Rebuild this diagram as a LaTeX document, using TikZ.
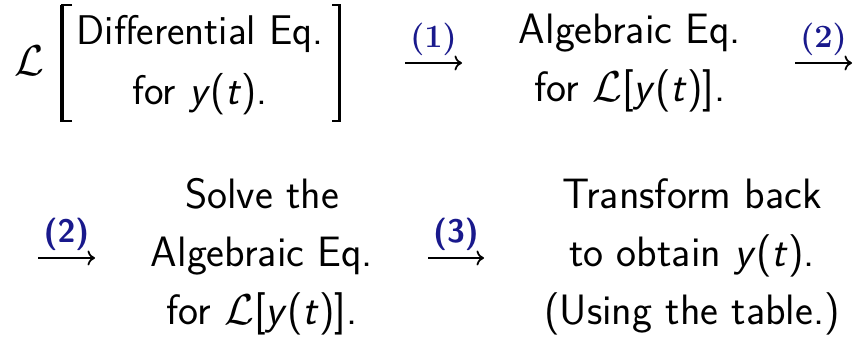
\documentclass[tikz,border=0pt]{standalone}
\usepackage{amsmath,amssymb}
\usepackage{xcolor}
\usepackage{tikz}
\usetikzlibrary{arrows.meta}

\definecolor{stepblue}{RGB}{25,25,140}
\newcommand{\yoft}{\textit{y}(\textit{t})}
\newcommand{\Lap}{$\mathcal{L}$}

\begin{document}
\begin{tikzpicture}[x=0.4pt, y=-0.4pt,
  eqtext/.style={font=\fontsize{17}{23.2}\selectfont\sffamily, align=center, inner sep=0pt},
  steparrow/.style={line width=0.7pt, -{To[length=3pt, width=6pt]}},
  steplabel/.style={font=\fontsize{13}{15}\selectfont, text=stepblue, inner sep=0pt, above=2.5pt},
  brackstem/.style={line width=1.5pt},
  brackhook/.style={line width=0.8pt}]
  \useasboundingbox (0,0) rectangle (858,337);

  % Top row
  \node[font=\fontsize{17}{20}\selectfont, inner sep=0pt] (lap) at (29.5,61) {$\mathcal{L}$};
  \node[eqtext, font=\fontsize{16.6}{24}\selectfont\sffamily] (diffeq) at (200,65) {Differential Eq.\\ for \yoft.};
  % brackets round it
  \draw[brackhook] (72,5.5) -- (61,5.5);
  \draw[brackstem] (62,5) -- (62,122);
  \draw[brackhook] (72,121.5) -- (61,121.5);
  \draw[brackhook] (332,5.5) -- (341,5.5);
  \draw[brackstem] (339.5,5) -- (339.5,122);
  \draw[brackhook] (332,121.5) -- (341,121.5);
  \node[eqtext] (algeq) at (630,63) {Algebraic Eq.\\ for \Lap[\yoft].};

  % Bottom row
  \node[eqtext] (solve) at (262,257) {Solve the\\ Algebraic Eq.\\ for \Lap[\yoft].};
  \node[eqtext] (back) at (692,257) {Transform back\\ to obtain \yoft.\\ (Using the table.)};

  % Arrow ends
  \coordinate (s1a) at (405,63);  \coordinate (s1b) at (462,63);
  \coordinate (s2a) at (795,63);  \coordinate (s2b) at (852,63);
  \coordinate (s2c) at (38,258);  \coordinate (s2d) at (95,258);
  \coordinate (s3a) at (428,258); \coordinate (s3b) at (484,258);

  % Step arrows
  \draw[steparrow] (s1a) -- (s1b) node[midway, steplabel] {\textbf{(1)}};
  \draw[steparrow] (s2a) -- (s2b) node[midway, steplabel] {\textbf{(2)}};
  \draw[steparrow] (s2c) -- (s2d) node[midway, steplabel] {\textsf{\textbf{(2)}}};
  \draw[steparrow] (s3a) -- (s3b) node[midway, steplabel] {\textsf{\textbf{(3)}}};
\end{tikzpicture}
\end{document}
